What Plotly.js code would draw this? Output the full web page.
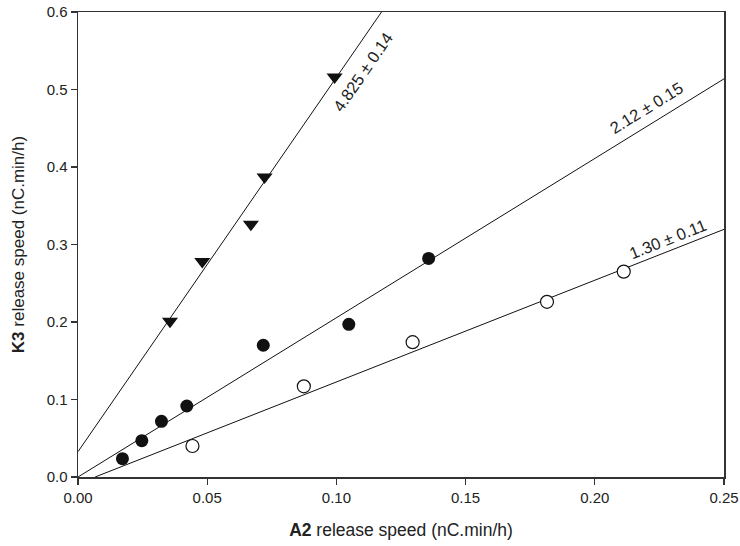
<!DOCTYPE html>
<html>
<head>
<meta charset="utf-8">
<script src="https://cdn.plot.ly/plotly-3.0.1.min.js"></script>
<style>html,body{margin:0;padding:0;background:#fff;}#chart{width:740px;height:546px;}</style>
</head>
<body>
<div id="chart"></div>
<script>
// Triangles (down)
const triX = [0.0356, 0.0481, 0.0669, 0.0722, 0.0993];
const triY = [0.201, 0.278, 0.326, 0.387, 0.516];
// Filled circles
const fillX = [0.0172, 0.0247, 0.0323, 0.0421, 0.0717, 0.1048, 0.1357];
const fillY = [0.0236, 0.0469, 0.0719, 0.0916, 0.170, 0.197, 0.282];
// Open circles
const openX = [0.0443, 0.0874, 0.1295, 0.1815, 0.2112];
const openY = [0.040, 0.117, 0.174, 0.226, 0.265];
// Fitted lines: slope, intercept (as drawn)
const fitSlope = [4.83, 2.055, 1.313];
const fitIntercept = [0.0327, 0.0, -0.0087];
const fitLabels = ['4.825 ± 0.14', '2.12 ± 0.15', '1.30 ± 0.11'];
const xTicks = [0, 0.05, 0.10, 0.15, 0.20, 0.25];
const xTickText = ['0.00', '0.05', '0.10', '0.15', '0.20', '0.25'];
const yTicks = [0, 0.1, 0.2, 0.3, 0.4, 0.5, 0.6];
const yTickText = ['0.0', '0.1', '0.2', '0.3', '0.4', '0.5', '0.6'];

const xMax = 0.25, yMax = 0.6;
function fitLine(i) {
  const m = fitSlope[i], b = fitIntercept[i];
  let x0 = b < 0 ? -b / m : 0;
  let x1 = Math.min(xMax, (yMax - b) / m);
  return {x: [x0, x1], y: [m * x0 + b, m * x1 + b]};
}
const lineStyle = {color: '#111', width: 1};
const traces = [];
for (let i = 0; i < 3; i++) {
  const l = fitLine(i);
  traces.push({x: l.x, y: l.y, mode: 'lines', line: lineStyle, hoverinfo: 'skip'});
}
traces.push({x: triX, y: triY, mode: 'markers', marker: {symbol: 'triangle-down', size: 14, color: '#111'}});
traces.push({x: fillX, y: fillY, mode: 'markers', marker: {symbol: 'circle', size: 13, color: '#111'}});
traces.push({x: openX, y: openY, mode: 'markers', marker: {symbol: 'circle', size: 13, color: '#fff', line: {color: '#111', width: 1.2}}});

// label positions / angles
const labX = [0.1102, 0.2198, 0.2282];
const labY = [0.5226, 0.4765, 0.3075];
const pxPerX = 645.5 / xMax, pxPerY = 465 / yMax;
const fam = 'Liberation Sans, Arial, sans-serif';
const annotations = fitLabels.map((t, i) => ({
  x: labX[i], y: labY[i], xref: 'x', yref: 'y', text: t, showarrow: false,
  textangle: -Math.atan(fitSlope[i] * pxPerY / pxPerX) * 180 / Math.PI,
  font: {family: fam, size: 16.5, color: '#222'}
}));

const layout = {
  width: 740, height: 546,
  margin: {l: 78, r: 16, t: 12, b: 69},
  paper_bgcolor: '#fff', plot_bgcolor: '#fff',
  showlegend: false,
  font: {family: fam, size: 15, color: '#222'},
  xaxis: {
    range: [0, xMax], tickvals: xTicks, ticktext: xTickText,
    showgrid: false, zeroline: false, showline: true, linecolor: '#333', linewidth: 1.5,
    mirror: true, ticks: 'outside', ticklen: 6, tickcolor: '#333', tickwidth: 1.2,
    tickfont: {family: fam, size: 15, color: '#222'},
    title: {text: '<b>A2</b> release speed (nC.min/h)', font: {family: fam, size: 17.5, color: '#222'}, standoff: 19}
  },
  yaxis: {
    range: [0, yMax], tickvals: yTicks, ticktext: yTickText,
    showgrid: false, zeroline: false, showline: true, linecolor: '#333', linewidth: 1.5,
    mirror: true, ticks: 'outside', ticklen: 6, tickcolor: '#333', tickwidth: 1.2,
    tickfont: {family: fam, size: 15, color: '#222'},
    title: {text: '<b>K3</b> release speed (nC.min/h)', font: {family: fam, size: 17, color: '#222'}, standoff: 17}
  },
  annotations: annotations
};
Plotly.newPlot('chart', traces, layout, {displayModeBar: false, staticPlot: true});
</script>
</body>
</html>
